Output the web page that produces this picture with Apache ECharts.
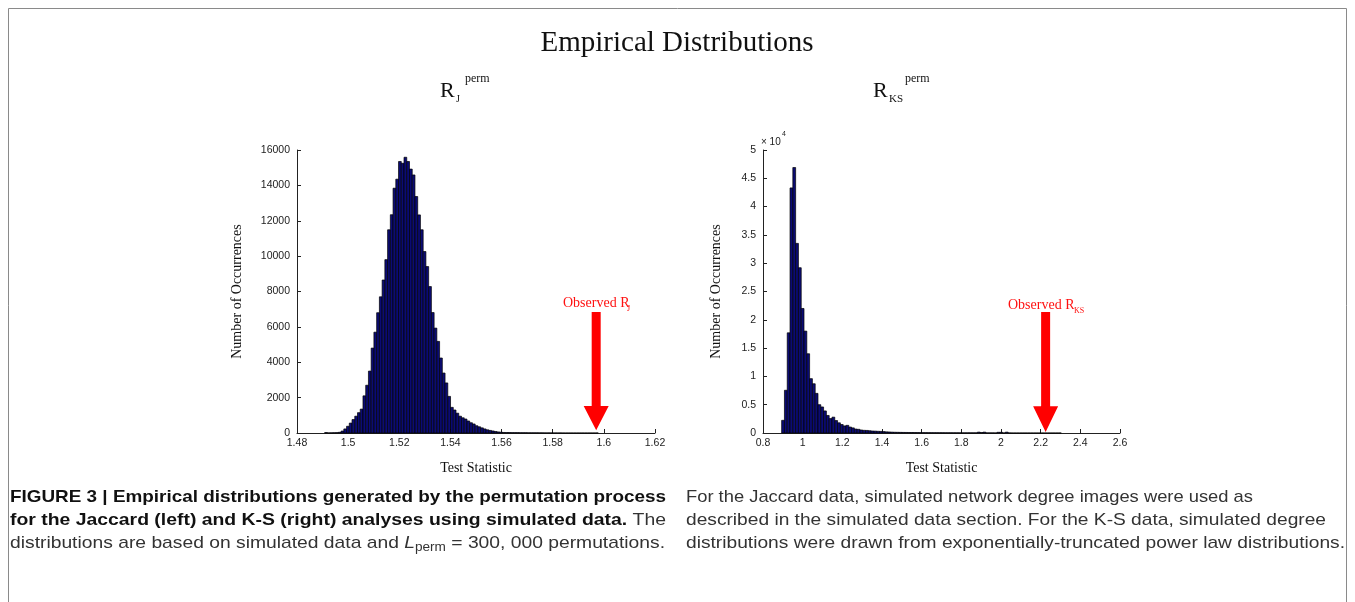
<!DOCTYPE html>
<html><head><meta charset="utf-8">
<script src="https://cdn.jsdelivr.net/npm/echarts@6/dist/echarts.min.js"></script>
<style>html,body{margin:0;padding:0;background:#fff;}#c{width:1355px;height:602px;}</style>
</head><body><div id="c"></div>
<script>
// ---------- DATA ----------
// Left panel: R_J^perm histogram (bin start, bin width, counts per bin)
const jaccardBinStart = 1.49082;
const jaccardBinWidth = 0.00107;
const jaccardCounts = [
  25, 5, 10, 15, 20, 40, 110, 230, 380, 560,
  760, 950, 1150, 1350, 2100, 2700, 3500, 4800, 5700, 6800,
  7700, 8650, 9800, 11490, 12340, 13840, 14350, 15350, 15250, 15590,
  15350, 14920, 14590, 13370, 12330, 11490, 10260, 9410, 8280, 6810,
  5930, 5180, 4240, 3390, 2830, 2070, 1450, 1300, 1120, 950,
  860, 790, 680, 580, 510, 410, 350, 290, 230, 180,
  145, 115, 85, 60, 45, 30, 25, 25, 20, 20,
  20, 15, 15, 15, 10, 10, 10, 10, 8, 8,
  5, 5, 5, 3, 3, 2, 2, 0, 0, 0,
  0, 0, 0, 0, 0, 0, 0, 0, 0, 2
];
// Right panel: R_KS^perm histogram
const ksBinStart = 0.894;
const ksBinWidth = 0.0141;
const ksCounts = [
  2240, 7550, 17700, 43300, 46900, 33500, 29200, 22000, 18000, 14000,
  9600, 8700, 7000, 5000, 4600, 3900, 3100, 2550, 2800, 2200,
  1800, 1500, 1250, 1350, 1050, 900, 700, 650, 530, 470,
  450, 400, 350, 330, 300, 280, 250, 200, 180, 150,
  130, 120, 110, 100, 95, 90, 85, 80, 75, 70,
  65, 60, 55, 55, 50, 50, 45, 45, 40, 40,
  40, 35, 35, 35, 30, 30, 30, 30, 30, 30,
  150, 80, 150, 20, 20, 20, 10, 120, 120, 10,
  150, 10, 0, 0, 0, 0, 0, 0, 0, 0,
  0, 0, 0, 0, 0, 0, 0, 0, 0, 5
];
// Axes
const leftXMin = 1.48, leftXMax = 1.62, leftXStep = 0.02;
const leftYMin = 0, leftYMax = 16000, leftYStep = 2000;
const rightXMin = 0.8, rightXMax = 2.6, rightXStep = 0.2;
const rightYMin = 0, rightYMax = 50000, rightYStep = 5000;
const rightYScale = 10000; // tick labels shown as x10^4
// Observed statistics (arrows): [x, shaft top, head top, tip]
const observedRJ = [1.597, 6840, 1525, 150];
const observedRKS = [2.225, 21400, 4720, 180];

// ---------- TEXT ----------
const mainTitle = 'Empirical Distributions';
const yName = 'Number of Occurrences';
const xName = 'Test Statistic';

const SERIF = '"Liberation Serif","Times New Roman",serif';
const SANS = '"Liberation Sans",Arial,Helvetica,sans-serif';
const BAR_FILL = '#0b0b74';

function fmtNum(v){ return String(parseFloat(Number(v).toFixed(4))); }

function histSeries(xi, start, width, counts){
  const data = counts.map((c,i)=>[start+i*width, start+(i+1)*width, c]);
  return {
    type:'custom', xAxisIndex:xi, yAxisIndex:xi, data, silent:true, animation:false,
    encode:{x:[0,1], y:2},
    renderItem(params, api){
      const p0 = api.coord([api.value(0), api.value(2)]);
      const p1 = api.coord([api.value(1), 0]);
      return {type:'rect', shape:{x:p0[0], y:p0[1], width:p1[0]-p0[0], height:p1[1]-p0[1]},
        style:{fill:BAR_FILL, stroke:'#000', lineWidth:0.7}};
    }
  };
}
function arrowSeries(xi, obs){
  return {
    type:'custom', xAxisIndex:xi, yAxisIndex:xi, data:[obs], silent:true, animation:false, z:5,
    encode:{x:0, y:[1,2,3]},
    renderItem(params, api){
      const top = api.coord([api.value(0), api.value(1)]);
      const head = api.coord([api.value(0), api.value(2)]);
      const tip = api.coord([api.value(0), api.value(3)]);
      const cx = top[0], sw = 4.5, hw = 12.5;
      return {type:'polygon', shape:{points:[
        [cx-sw, top[1]], [cx+sw, top[1]], [cx+sw, head[1]], [cx+hw, head[1]],
        [cx, tip[1]], [cx-hw, head[1]], [cx-sw, head[1]]]},
        style:{fill:'#ff0000'}};
    }
  };
}
function axisCommon(){
  return {
    axisLine:{show:true, onZero:false, lineStyle:{color:'#222', width:1}},
    axisTick:{show:true, inside:true, length:4, lineStyle:{color:'#222'}},
    splitLine:{show:false},
    axisLabel:{color:'#222', fontFamily:SANS, fontSize:10.5, formatter:fmtNum},
    nameTextStyle:{color:'#111', fontFamily:SERIF, fontSize:14}
  };
}

// ---------- caption layout (measured) ----------
const mctx = document.createElement('canvas').getContext('2d');
function fontStr(seg){ return (seg.style||'normal')+' '+(seg.weight||'normal')+' '+seg.size+'px '+SANS; }
function measure(seg){ mctx.font = fontStr(seg); return mctx.measureText(seg.t).width; }
const CAP = 17;
const capLines = [
  {x:10, y:497, w:656, segs:[{t:'FIGURE 3 | Empirical distributions generated by the permutation process', weight:'bold', size:CAP}]},
  {x:10, y:520, w:656, segs:[{t:'for the Jaccard (left) and K-S (right) analyses using simulated data.', weight:'bold', size:CAP},{t:' The', size:CAP}]},
  {x:10, y:543, w:655, segs:[{t:'distributions are based on simulated data and ', size:CAP},{t:'L', style:'italic', size:CAP},{t:'perm', size:12, dy:5},{t:' = 300, 000 permutations.', size:CAP}]},
  {x:686, y:497, w:567, segs:[{t:'For the Jaccard data, simulated network degree images were used as', size:CAP}]},
  {x:686, y:520, w:640, segs:[{t:'described in the simulated data section. For the K-S data, simulated degree', size:CAP}]},
  {x:686, y:543, w:659, segs:[{t:'distributions were drawn from exponentially-truncated power law distributions.', size:CAP}]}
];
const graphics = [];
capLines.forEach(line=>{
  const widths = line.segs.map(measure);
  const total = widths.reduce((a,b)=>a+b,0);
  const s = line.w/total;
  let cx = line.x;
  line.segs.forEach((seg,i)=>{
    graphics.push({type:'text', x:cx, y:line.y+(seg.dy||0), scaleX:s, silent:true,
      style:{text:seg.t, fontFamily:SANS, fontSize:seg.size, fontWeight:seg.weight||'normal',
        fontStyle:seg.style||'normal', fill: seg.weight==='bold' ? '#111' : '#333', verticalAlign:'middle', align:'left'}});
    cx += widths[i]*s;
  });
});
function txt(t, x, y, size, family, fill, align){
  return {type:'text', x, y, silent:true,
    style:{text:t, fontFamily:family, fontSize:size, fill:fill||'#111', verticalAlign:'middle', align:align||'left'}};
}
// main title & panel titles
graphics.push(txt(mainTitle, 677, 43, 29, SERIF, '#111', 'center'));
graphics.push(txt('R', 440, 91, 22, SERIF));
graphics.push(txt('J', 456, 99, 10, SERIF));
graphics.push(txt('perm', 465, 79, 12, SERIF));
graphics.push(txt('R', 873, 91, 22, SERIF));
graphics.push(txt('KS', 889, 99, 11, SERIF));
graphics.push(txt('perm', 905, 79, 12, SERIF));
// exponent label
graphics.push(txt('\u00d7 10', 761, 142, 10, SANS, '#222'));
graphics.push(txt('4', 782, 134, 7, SANS, '#222'));
// observed labels
graphics.push(txt('Observed R', 563, 303, 14, SERIF, '#ff1010'));
graphics.push(txt('J', 627, 309, 8, SERIF, '#ff1010'));
graphics.push(txt('Observed R', 1008, 305, 14, SERIF, '#ff1010'));
graphics.push(txt('KS', 1074, 311, 8, SERIF, '#ff1010'));
// frame
graphics.push({type:'polyline', silent:true, shape:{points:[[8.5,602],[8.5,8.5],[1346.5,8.5],[1346.5,602]]}, style:{stroke:'#8a8a8a', lineWidth:1, fill:null}});

const chart = echarts.init(document.getElementById('c'), null, {renderer:'canvas'});
chart.setOption({
  backgroundColor:'#fff',
  animation:false,
  grid:[
    {left:297, right:700, top:150, bottom:169},
    {left:763, right:235, top:150, bottom:169}
  ],
  xAxis:[
    Object.assign(axisCommon(), {gridIndex:0, type:'value', min:leftXMin, max:leftXMax, interval:leftXStep,
      name:xName, nameLocation:'middle', nameGap:28, axisLabel:Object.assign(axisCommon().axisLabel,{margin:5})}),
    Object.assign(axisCommon(), {gridIndex:1, type:'value', min:rightXMin, max:rightXMax, interval:rightXStep,
      name:xName, nameLocation:'middle', nameGap:28, axisLabel:Object.assign(axisCommon().axisLabel,{margin:5})})
  ],
  yAxis:[
    Object.assign(axisCommon(), {gridIndex:0, type:'value', min:leftYMin, max:leftYMax, interval:leftYStep,
      name:yName, nameLocation:'middle', nameGap:53, axisLabel:Object.assign(axisCommon().axisLabel,{margin:7})}),
    Object.assign(axisCommon(), {gridIndex:1, type:'value', min:rightYMin, max:rightYMax, interval:rightYStep,
      name:yName, nameLocation:'middle', nameGap:40, axisLabel:Object.assign(axisCommon().axisLabel,{margin:7, formatter:v=>fmtNum(v/rightYScale)})})
  ],
  series:[
    histSeries(0, jaccardBinStart, jaccardBinWidth, jaccardCounts),
    histSeries(1, ksBinStart, ksBinWidth, ksCounts),
    arrowSeries(0, observedRJ),
    arrowSeries(1, observedRKS)
  ],
  graphic: graphics
});
</script></body></html>
